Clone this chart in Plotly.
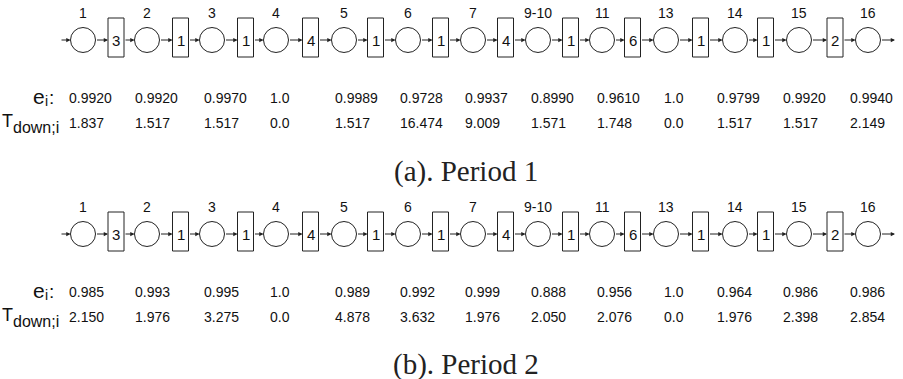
import plotly.graph_objects as go

# ---- data ----
machines = ["1", "2", "3", "4", "5", "6", "7", "9-10", "11", "13", "14", "15", "16"]
buffers = [3, 1, 1, 4, 1, 1, 4, 1, 6, 1, 1, 2]
e_p1 = [0.9920, 0.9920, 0.9970, 1.0, 0.9989, 0.9728, 0.9937, 0.8990, 0.9610, 1.0, 0.9799, 0.9920, 0.9940]
T_p1 = [1.837, 1.517, 1.517, 0.0, 1.517, 16.474, 9.009, 1.571, 1.748, 0.0, 1.517, 1.517, 2.149]
e_p2 = [0.985, 0.993, 0.995, 1.0, 0.989, 0.992, 0.999, 0.888, 0.956, 1.0, 0.964, 0.986, 0.986]
T_p2 = [2.150, 1.976, 3.275, 0.0, 4.878, 3.632, 1.976, 2.050, 2.076, 0.0, 1.976, 2.398, 2.854]
periods = ["(a). Period 1", "(b). Period 2"]

# ---- layout positions (pixels) ----
circ_x = [83, 147, 212, 276, 344, 408, 473, 538, 602, 666, 735, 799, 868]
buf_x = [116, 180.5, 245.5, 310.5, 375.5, 440.5, 505.5, 570.5, 632.5, 700.5, 765.5, 835]
val_x = [67, 133, 202, 268, 333, 398, 463, 529, 595, 662, 715, 781, 848]
row_off = [0, 194]
title_y = [171, 364]
R = 12.5
BW = 8
LINE = "#222"
SANS = "Liberation Sans, Arial, sans-serif"


def fmt(v, d):
    if v in (0.0, 1.0):
        return f"{v:.1f}"
    return f"{v:.{d}f}"


shapes = []
ann = []


def arrow(x0, x1, y):
    ann.append(dict(x=x1, y=y, ax=x0, ay=y, xref="x", yref="y", axref="x", ayref="y",
                    showarrow=True, arrowhead=2, arrowsize=0.85, arrowwidth=1,
                    arrowcolor=LINE, standoff=0, startstandoff=0, text=""))


def label(x, y, text, size, xanchor="center", family=SANS, color="#111"):
    ann.append(dict(x=x, y=y, text=text, showarrow=False, xanchor=xanchor,
                    font=dict(family=family, size=size, color=color)))


for p, (ev, tv, dd) in enumerate([(e_p1, T_p1, 4), (e_p2, T_p2, 3)]):
    off = row_off[p]
    cy = 40 + off
    arrow(60, circ_x[0] - R, cy)
    for i, m in enumerate(machines):
        cx = circ_x[i]
        shapes.append(dict(type="circle", xref="x", yref="y", x0=cx - R, x1=cx + R,
                           y0=cy - R, y1=cy + R, line=dict(color=LINE, width=1)))
        label(cx, 13 + off, m, 14)
        label(val_x[i], 98 + off, fmt(ev[i], dd), 14, "left")
        label(val_x[i], 123 + off, fmt(tv[i], 3), 14, "left")
        if i < len(buffers):
            bx = buf_x[i]
            shapes.append(dict(type="rect", xref="x", yref="y", x0=bx - BW, x1=bx + BW,
                               y0=18 + off, y1=57 + off, line=dict(color=LINE, width=1)))
            label(bx, cy, str(buffers[i]), 15)
            arrow(cx + R, bx - BW, cy)
            arrow(bx + BW, circ_x[i + 1] - R, cy)
    arrow(circ_x[-1] + R, 895, cy)
    # row labels
    label(31, 96 + off, "e", 21, "left")
    label(43, 101 + off, "i", 14, "left")
    label(47, 97 + off, ":", 19, "left")
    label(0, 121 + off, "T", 18, "left")
    label(11, 127 + off, "down;i", 16, "left")
    label(466, title_y[p], periods[p], 29, family="Liberation Serif, serif", color="#222")

fig = go.Figure()
fig.update_layout(
    width=903, height=379, margin=dict(l=0, r=0, t=0, b=0),
    paper_bgcolor="white", plot_bgcolor="white",
    xaxis=dict(range=[0, 903], visible=False, fixedrange=True),
    yaxis=dict(range=[379, 0], visible=False, fixedrange=True),
    shapes=shapes, annotations=ann, showlegend=False,
)
fig.write_html("out.html", config={"displayModeBar": False},
               post_script="document.body.style.margin='0';document.body.style.overflow='hidden';")
